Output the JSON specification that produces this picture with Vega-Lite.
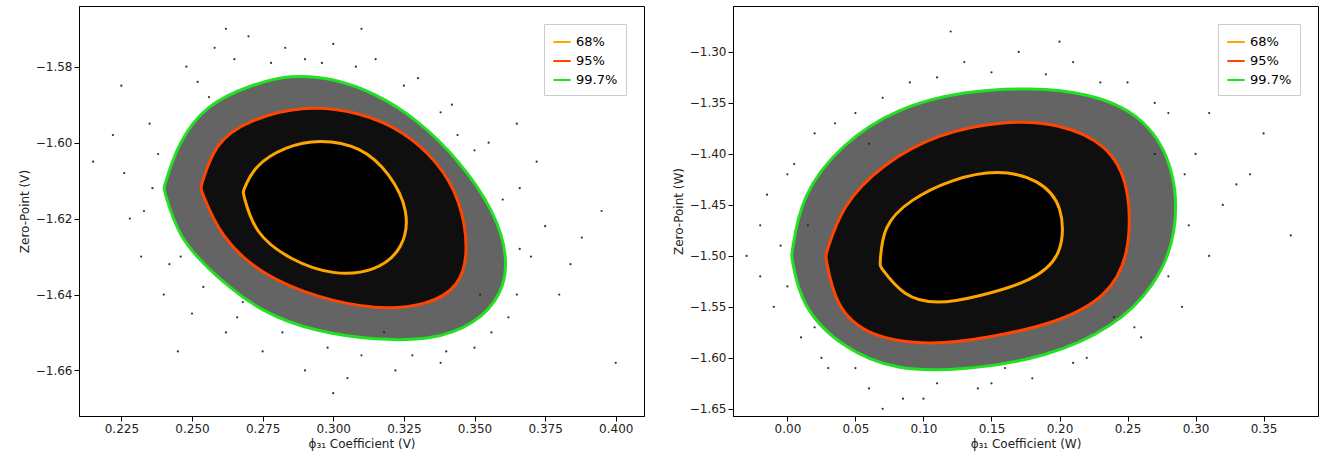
{
"$schema":"https://vega.github.io/schema/vega-lite/v6.json",
"background":"white",
"padding":{"left":17,"top":5,"right":5,"bottom":5},
"spacing":26,
"config":{"font":"DejaVu Sans","axis":{"labelFontSize":12,"titleFontSize":12,"grid":false,"domainColor":"black","tickColor":"black","labelColor":"#222","titleColor":"#222","titleFontWeight":"normal"},"view":{"stroke":"black"}},
"datasets":{
"cl":[
{"l":"99.7%","i":0,"x":0.240,"y":-1.612},{"l":"99.7%","i":1,"x":0.245,"y":-1.600},{"l":"99.7%","i":2,"x":0.255,"y":-1.590},{"l":"99.7%","i":3,"x":0.270,"y":-1.585},{"l":"99.7%","i":4,"x":0.285,"y":-1.582},{"l":"99.7%","i":5,"x":0.300,"y":-1.583},{"l":"99.7%","i":6,"x":0.315,"y":-1.587},{"l":"99.7%","i":7,"x":0.330,"y":-1.594},{"l":"99.7%","i":8,"x":0.345,"y":-1.605},{"l":"99.7%","i":9,"x":0.357,"y":-1.618},{"l":"99.7%","i":10,"x":0.362,"y":-1.630},{"l":"99.7%","i":11,"x":0.360,"y":-1.640},{"l":"99.7%","i":12,"x":0.350,"y":-1.648},{"l":"99.7%","i":13,"x":0.335,"y":-1.652},{"l":"99.7%","i":14,"x":0.315,"y":-1.652},{"l":"99.7%","i":15,"x":0.295,"y":-1.650},{"l":"99.7%","i":16,"x":0.275,"y":-1.645},{"l":"99.7%","i":17,"x":0.258,"y":-1.635},{"l":"99.7%","i":18,"x":0.245,"y":-1.625},{"l":"99.7%","i":19,"x":0.240,"y":-1.612},
{"l":"95%","i":0,"x":0.253,"y":-1.612},{"l":"95%","i":1,"x":0.258,"y":-1.600},{"l":"95%","i":2,"x":0.270,"y":-1.594},{"l":"95%","i":3,"x":0.290,"y":-1.590},{"l":"95%","i":4,"x":0.310,"y":-1.592},{"l":"95%","i":5,"x":0.325,"y":-1.597},{"l":"95%","i":6,"x":0.337,"y":-1.605},{"l":"95%","i":7,"x":0.345,"y":-1.615},{"l":"95%","i":8,"x":0.348,"y":-1.628},{"l":"95%","i":9,"x":0.345,"y":-1.638},{"l":"95%","i":10,"x":0.333,"y":-1.643},{"l":"95%","i":11,"x":0.315,"y":-1.644},{"l":"95%","i":12,"x":0.295,"y":-1.641},{"l":"95%","i":13,"x":0.275,"y":-1.635},{"l":"95%","i":14,"x":0.260,"y":-1.625},{"l":"95%","i":15,"x":0.253,"y":-1.612},
{"l":"68%","i":0,"x":0.268,"y":-1.613},{"l":"68%","i":1,"x":0.272,"y":-1.606},{"l":"68%","i":2,"x":0.283,"y":-1.601},{"l":"68%","i":3,"x":0.295,"y":-1.599},{"l":"68%","i":4,"x":0.310,"y":-1.601},{"l":"68%","i":5,"x":0.320,"y":-1.608},{"l":"68%","i":6,"x":0.327,"y":-1.618},{"l":"68%","i":7,"x":0.325,"y":-1.628},{"l":"68%","i":8,"x":0.315,"y":-1.634},{"l":"68%","i":9,"x":0.300,"y":-1.635},{"l":"68%","i":10,"x":0.285,"y":-1.631},{"l":"68%","i":11,"x":0.272,"y":-1.624},{"l":"68%","i":12,"x":0.268,"y":-1.613}
],
"cr":[
{"l":"99.7%","i":0,"x":0.003,"y":-1.50},{"l":"99.7%","i":1,"x":0.01,"y":-1.44},{"l":"99.7%","i":2,"x":0.04,"y":-1.39},{"l":"99.7%","i":3,"x":0.08,"y":-1.355},{"l":"99.7%","i":4,"x":0.13,"y":-1.338},{"l":"99.7%","i":5,"x":0.18,"y":-1.335},{"l":"99.7%","i":6,"x":0.22,"y":-1.34},{"l":"99.7%","i":7,"x":0.26,"y":-1.36},{"l":"99.7%","i":8,"x":0.285,"y":-1.41},{"l":"99.7%","i":9,"x":0.287,"y":-1.48},{"l":"99.7%","i":10,"x":0.27,"y":-1.53},{"l":"99.7%","i":11,"x":0.24,"y":-1.57},{"l":"99.7%","i":12,"x":0.19,"y":-1.60},{"l":"99.7%","i":13,"x":0.13,"y":-1.612},{"l":"99.7%","i":14,"x":0.08,"y":-1.613},{"l":"99.7%","i":15,"x":0.04,"y":-1.59},{"l":"99.7%","i":16,"x":0.01,"y":-1.55},{"l":"99.7%","i":17,"x":0.003,"y":-1.50},
{"l":"95%","i":0,"x":0.028,"y":-1.50},{"l":"95%","i":1,"x":0.04,"y":-1.45},{"l":"95%","i":2,"x":0.07,"y":-1.41},{"l":"95%","i":3,"x":0.11,"y":-1.38},{"l":"95%","i":4,"x":0.16,"y":-1.367},{"l":"95%","i":5,"x":0.20,"y":-1.37},{"l":"95%","i":6,"x":0.235,"y":-1.39},{"l":"95%","i":7,"x":0.252,"y":-1.43},{"l":"95%","i":8,"x":0.252,"y":-1.50},{"l":"95%","i":9,"x":0.235,"y":-1.54},{"l":"95%","i":10,"x":0.20,"y":-1.565},{"l":"95%","i":11,"x":0.15,"y":-1.58},{"l":"95%","i":12,"x":0.105,"y":-1.588},{"l":"95%","i":13,"x":0.06,"y":-1.58},{"l":"95%","i":14,"x":0.035,"y":-1.55},{"l":"95%","i":15,"x":0.028,"y":-1.50},
{"l":"68%","i":0,"x":0.068,"y":-1.51},{"l":"68%","i":1,"x":0.07,"y":-1.47},{"l":"68%","i":2,"x":0.09,"y":-1.445},{"l":"68%","i":3,"x":0.12,"y":-1.425},{"l":"68%","i":4,"x":0.155,"y":-1.415},{"l":"68%","i":5,"x":0.185,"y":-1.425},{"l":"68%","i":6,"x":0.203,"y":-1.45},{"l":"68%","i":7,"x":0.203,"y":-1.50},{"l":"68%","i":8,"x":0.18,"y":-1.525},{"l":"68%","i":9,"x":0.14,"y":-1.54},{"l":"68%","i":10,"x":0.11,"y":-1.548},{"l":"68%","i":11,"x":0.085,"y":-1.54},{"l":"68%","i":12,"x":0.068,"y":-1.51}
],
"pl":[
{"x":0.215,"y":-1.605},{"x":0.222,"y":-1.598},{"x":0.228,"y":-1.620},{"x":0.232,"y":-1.630},{"x":0.235,"y":-1.595},{"x":0.240,"y":-1.640},{"x":0.248,"y":-1.580},{"x":0.250,"y":-1.645},{"x":0.258,"y":-1.575},{"x":0.262,"y":-1.650},{"x":0.270,"y":-1.572},{"x":0.275,"y":-1.655},{"x":0.283,"y":-1.575},{"x":0.290,"y":-1.660},{"x":0.300,"y":-1.574},{"x":0.305,"y":-1.662},{"x":0.315,"y":-1.578},{"x":0.322,"y":-1.660},{"x":0.330,"y":-1.583},{"x":0.338,"y":-1.658},{"x":0.342,"y":-1.590},{"x":0.350,"y":-1.654},{"x":0.355,"y":-1.600},{"x":0.362,"y":-1.646},{"x":0.366,"y":-1.612},{"x":0.370,"y":-1.630},{"x":0.375,"y":-1.622},{"x":0.380,"y":-1.640},{"x":0.388,"y":-1.625},{"x":0.395,"y":-1.618},{"x":0.400,"y":-1.658},{"x":0.245,"y":-1.655},{"x":0.365,"y":-1.595},{"x":0.236,"y":-1.612},{"x":0.256,"y":-1.588},{"x":0.352,"y":-1.640},{"x":0.290,"y":-1.578},{"x":0.318,"y":-1.650},{"x":0.268,"y":-1.642},{"x":0.344,"y":-1.598},
{"x":0.238,"y":-1.603},{"x":0.242,"y":-1.632},{"x":0.252,"y":-1.584},{"x":0.265,"y":-1.578},{"x":0.278,"y":-1.579},{"x":0.296,"y":-1.579},{"x":0.308,"y":-1.580},{"x":0.325,"y":-1.585},{"x":0.338,"y":-1.592},{"x":0.350,"y":-1.602},{"x":0.360,"y":-1.615},{"x":0.366,"y":-1.628},{"x":0.365,"y":-1.640},{"x":0.356,"y":-1.650},{"x":0.340,"y":-1.655},{"x":0.328,"y":-1.656},{"x":0.310,"y":-1.656},{"x":0.298,"y":-1.654},{"x":0.282,"y":-1.650},{"x":0.266,"y":-1.646},{"x":0.254,"y":-1.638},{"x":0.246,"y":-1.630},{"x":0.233,"y":-1.618},{"x":0.226,"y":-1.608},{"x":0.262,"y":-1.570},{"x":0.310,"y":-1.570},{"x":0.372,"y":-1.605},{"x":0.384,"y":-1.632},{"x":0.300,"y":-1.666},{"x":0.225,"y":-1.585}
],
"pr":[
{"x":-0.03,"y":-1.50},{"x":-0.02,"y":-1.47},{"x":-0.01,"y":-1.55},{"x":0.00,"y":-1.42},{"x":0.01,"y":-1.58},{"x":0.02,"y":-1.38},{"x":0.03,"y":-1.61},{"x":0.05,"y":-1.36},{"x":0.06,"y":-1.63},{"x":0.09,"y":-1.33},{"x":0.10,"y":-1.64},{"x":0.13,"y":-1.31},{"x":0.14,"y":-1.63},{"x":0.17,"y":-1.30},{"x":0.18,"y":-1.62},{"x":0.21,"y":-1.31},{"x":0.22,"y":-1.60},{"x":0.25,"y":-1.33},{"x":0.26,"y":-1.58},{"x":0.28,"y":-1.36},{"x":0.29,"y":-1.55},{"x":0.30,"y":-1.40},{"x":0.31,"y":-1.50},{"x":0.32,"y":-1.45},{"x":0.33,"y":-1.43},{"x":0.35,"y":-1.38},{"x":0.37,"y":-1.48},{"x":0.07,"y":-1.65},{"x":0.12,"y":-1.28},{"x":-0.015,"y":-1.44},{"x":0.27,"y":-1.40},{"x":0.015,"y":-1.47},{"x":0.24,"y":-1.56},{"x":0.06,"y":-1.39},{"x":0.16,"y":-1.61},
{"x":-0.005,"y":-1.49},{"x":0.0,"y":-1.53},{"x":0.005,"y":-1.41},{"x":0.025,"y":-1.60},{"x":0.035,"y":-1.37},{"x":0.07,"y":-1.345},{"x":0.11,"y":-1.325},{"x":0.15,"y":-1.32},{"x":0.19,"y":-1.322},{"x":0.23,"y":-1.33},{"x":0.27,"y":-1.35},{"x":0.292,"y":-1.42},{"x":0.295,"y":-1.47},{"x":0.28,"y":-1.52},{"x":0.255,"y":-1.57},{"x":0.21,"y":-1.605},{"x":0.15,"y":-1.625},{"x":0.11,"y":-1.625},{"x":0.05,"y":-1.61},{"x":0.02,"y":-1.57},{"x":0.31,"y":-1.36},{"x":0.34,"y":-1.42},{"x":0.085,"y":-1.64},{"x":0.2,"y":-1.29},{"x":-0.02,"y":-1.52}
]
},
"hconcat":[
{"width":565,"height":410,
"encoding":{"x":{"field":"x","type":"quantitative","scale":{"domain":[0.21,0.41],"nice":false,"zero":false},"axis":{"values":[0.225,0.25,0.275,0.3,0.325,0.35,0.375,0.4],"format":".3f","title":"ϕ₃₁ Coefficient (V)"}},
"y":{"field":"y","type":"quantitative","scale":{"domain":[-1.672,-1.564],"nice":false,"zero":false},"axis":{"values":[-1.66,-1.64,-1.62,-1.6,-1.58],"format":".2f","title":"Zero-Point (V)"}}},
"layer":[
{"data":{"name":"pl"},"mark":{"type":"point","filled":true,"size":5,"color":"black","opacity":0.8}},
{"data":{"name":"cl"},"transform":[{"filter":"datum.l=='99.7%'"}],"mark":{"type":"line","interpolate":"basis-closed","fill":"#222","fillOpacity":0.7,"strokeWidth":0},"encoding":{"order":{"field":"i"}}},
{"data":{"name":"cl"},"transform":[{"filter":"datum.l=='95%'"}],"mark":{"type":"line","interpolate":"basis-closed","fill":"black","fillOpacity":0.85,"strokeWidth":0},"encoding":{"order":{"field":"i"}}},
{"data":{"name":"cl"},"transform":[{"filter":"datum.l=='68%'"}],"mark":{"type":"line","interpolate":"basis-closed","fill":"black","strokeWidth":0},"encoding":{"order":{"field":"i"}}},
{"data":{"name":"cl"},"mark":{"type":"line","strokeWidth":3,"interpolate":"basis-closed"},"encoding":{"order":{"field":"i"},"color":{"field":"l","type":"nominal","scale":{"domain":["68%","95%","99.7%"],"range":["#ffa500","#ff4500","#22e022"]},"legend":{"title":null,"orient":"top-right","labelFontSize":13,"strokeColor":"#ccc","fillColor":"white","padding":8,"symbolType":"stroke","symbolStrokeWidth":2,"symbolSize":300}}}}
]},
{"width":585,"height":410,
"encoding":{"x":{"field":"x","type":"quantitative","scale":{"domain":[-0.04,0.39],"nice":false,"zero":false},"axis":{"values":[0,0.05,0.1,0.15,0.2,0.25,0.3,0.35],"format":".2f","title":"ϕ₃₁ Coefficient (W)"}},
"y":{"field":"y","type":"quantitative","scale":{"domain":[-1.657,-1.255],"nice":false,"zero":false},"axis":{"values":[-1.65,-1.6,-1.55,-1.5,-1.45,-1.4,-1.35,-1.3],"format":".2f","title":"Zero-Point (W)"}}},
"layer":[
{"data":{"name":"pr"},"mark":{"type":"point","filled":true,"size":5,"color":"black","opacity":0.8}},
{"data":{"name":"cr"},"transform":[{"filter":"datum.l=='99.7%'"}],"mark":{"type":"line","interpolate":"basis-closed","fill":"#222","fillOpacity":0.7,"strokeWidth":0},"encoding":{"order":{"field":"i"}}},
{"data":{"name":"cr"},"transform":[{"filter":"datum.l=='95%'"}],"mark":{"type":"line","interpolate":"basis-closed","fill":"black","fillOpacity":0.85,"strokeWidth":0},"encoding":{"order":{"field":"i"}}},
{"data":{"name":"cr"},"transform":[{"filter":"datum.l=='68%'"}],"mark":{"type":"line","interpolate":"basis-closed","fill":"black","strokeWidth":0},"encoding":{"order":{"field":"i"}}},
{"data":{"name":"cr"},"mark":{"type":"line","strokeWidth":3,"interpolate":"basis-closed"},"encoding":{"order":{"field":"i"},"color":{"field":"l","type":"nominal","scale":{"domain":["68%","95%","99.7%"],"range":["#ffa500","#ff4500","#22e022"]},"legend":{"title":null,"orient":"top-right","labelFontSize":13,"strokeColor":"#ccc","fillColor":"white","padding":8,"symbolType":"stroke","symbolStrokeWidth":2,"symbolSize":300}}}}
]}
],
"resolve":{"legend":{"color":"independent"}}
}
